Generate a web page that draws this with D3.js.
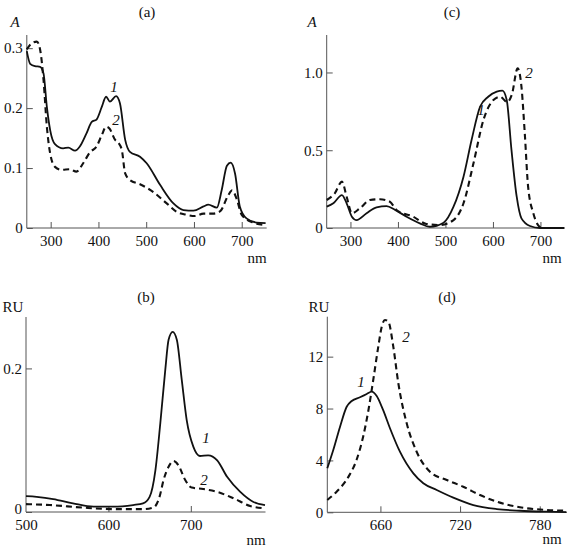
<!DOCTYPE html>
<html><head><meta charset="utf-8">
<script src="https://cdn.jsdelivr.net/npm/d3@7"></script>
<style>
body{margin:0;background:#fff;}
svg{display:block;}
</style></head><body>
<svg id="c" width="567" height="551"></svg>
<script>
// ---- data ----
const aX1 = [250,257,267,278,285,292,299,309,326,337,351,361,375,386,396,407,416,424,437,445,456,466,487,501,529,557,578,599,620,630,648,658,669,677,686,696,710,731,750];
const aY1 = [0.295,0.274,0.27,0.269,0.258,0.202,0.163,0.14,0.133,0.134,0.129,0.136,0.158,0.177,0.181,0.202,0.219,0.211,0.22,0.208,0.147,0.127,0.119,0.108,0.072,0.041,0.03,0.029,0.036,0.039,0.034,0.063,0.104,0.109,0.091,0.036,0.016,0.009,0.008];
const aX2 = [250,260,271,278,285,292,299,309,323,340,354,368,382,396,407,416,423,435,442,449,456,466,487,515,543,564,585,602,620,640,655,672,680,690,700,724,750];
const aY2 = [0.298,0.308,0.311,0.297,0.247,0.169,0.124,0.102,0.097,0.098,0.094,0.108,0.126,0.136,0.155,0.169,0.166,0.147,0.142,0.13,0.091,0.08,0.073,0.06,0.041,0.027,0.022,0.02,0.024,0.024,0.028,0.055,0.063,0.047,0.022,0.009,0.005];

const cX1 = [250,264,282,292,303,313,334,355,376,394,418,446,467,496,517,538,555,573,590,608,620,629,639,650,660,678,699,750];
const cY1 = [0.137,0.159,0.212,0.159,0.073,0.051,0.095,0.133,0.141,0.116,0.073,0.03,0.008,0.034,0.137,0.33,0.566,0.78,0.844,0.877,0.883,0.823,0.502,0.201,0.062,0.013,0,0];
const cX2 = [250,267,282,292,303,320,341,362,383,397,432,460,488,517,538,559,580,601,615,630,640,652,660,667,674,685,695,705,750];
const cY2 = [0.18,0.223,0.298,0.201,0.095,0.127,0.18,0.185,0.169,0.116,0.073,0.026,0.019,0.051,0.159,0.416,0.695,0.823,0.844,0.81,0.86,1.027,0.909,0.609,0.266,0.095,0.019,0,0];

const bX1 = [500,513,533,557,582,606,630,642,650,657,663,669,673,678,683,689,695,703,711,721,732,744,760,776,790];
const bY1 = [0.022,0.021,0.018,0.012,0.0074,0.0074,0.0097,0.012,0.021,0.058,0.124,0.198,0.24,0.251,0.24,0.184,0.128,0.091,0.078,0.079,0.072,0.049,0.028,0.014,0.0097];
const bX2 = [500,529,570,610,642,655,662,667,673,679,685,693,701,715,732,752,772,790];
const bY2 = [0.011,0.0097,0.006,0.004,0.004,0.0065,0.021,0.045,0.063,0.071,0.065,0.045,0.034,0.032,0.028,0.019,0.0084,0.005];

const dX1 = [620,624.5,629.6,634.6,638.4,644.6,649.7,653.4,657.2,662,667.2,674.7,684.8,692.3,702.4,714.9,730,747.6,765,785,800];
const dY1 = [3.39,4.8,6.6,8.14,8.58,8.87,9.12,9.3,8.97,7.89,6.48,4.67,3.0,2.24,1.72,1.13,0.56,0.25,0.12,0.05,0.02];
const dX2 = [620,627,636,642,647,651,654.6,658.4,661,663.4,666,669.7,673.5,679.8,687.3,697.3,710,722.4,735,747.6,765,785,800];
const dY2 = [0.95,1.59,2.75,4.03,5.83,7.89,10.2,12.77,14.31,14.83,14.7,12.77,9.95,6.86,4.67,3.13,2.49,1.97,1.33,0.82,0.39,0.18,0.12];

const aXTicks = [300,400,500,600,700], aYTicks = [0,0.1,0.2,0.3];
const cXTicks = [300,400,500,600,700], cYTicks = [0,0.5,1.0];
const bXTicks = [500,600,700], bYTicks = [0,0.2];
const dXTicks = [660,720,780], dYTicks = [0,4,8,12];

const titles = ["(a)","(b)","(c)","(d)"];
const yNames = ["A","RU","A","RU"];
const xName = "nm";

// ---- drawing ----
const FONT = "Liberation Serif";
const svg = d3.select("#c");
const fmt1 = d => d === 0 ? "0" : d3.format(".1f")(d);
const fmtI = d => String(d);

function txt(g, p, s, italic){
  return g.append("text").attr("x",p[0]).attr("y",p[1]).attr("text-anchor","middle")
    .attr("dominant-baseline","central").attr("font-size",15).attr("font-family",FONT)
    .attr("fill","#111").attr("font-style",italic?"italic":"normal").text(s);
}

function panel(o){
  const x = d3.scaleLinear().domain(o.xd).range(o.xr);
  const y = d3.scaleLinear().domain(o.yd).range(o.yr);
  const g = svg.append("g");
  const xa = g.append("g").attr("transform",`translate(0,${o.yr[0]})`)
    .call(d3.axisBottom(x).tickValues(o.xt).tickSizeInner(-6).tickSizeOuter(0).tickPadding(7).tickFormat(fmtI));
  const ya = g.append("g").attr("transform",`translate(${o.xr[0]},0)`)
    .call(d3.axisLeft(y).tickValues(o.yt).tickSizeInner(-6).tickSizeOuter(0).tickPadding(4).tickFormat(o.yf));
  [xa,ya].forEach(a=>{
    a.attr("font-family",FONT).attr("font-size",15);
    a.select(".domain").attr("stroke","#555").attr("stroke-width",1);
    a.selectAll(".tick line").attr("stroke","#555");
    a.selectAll("text").attr("fill","#111");
  });
  xa.select(".domain").attr("d",`M${o.xr[0]},0H${o.xEnd}`);
  ya.select(".domain").attr("d",`M0,${o.yr[0]}V${o.yr[1]}`);
  if(o.hideFirstX) xa.selectAll(".tick").filter(d=>d===o.xd[0]).select("line").remove();
  if(o.zeroUp) ya.selectAll(".tick").filter(d=>d===0).select("text").attr("dy","0.1em");
  const line = d3.line().x(d=>x(d[0])).y(d=>y(d[1])).curve(d3.curveMonotoneX);
  g.append("path").datum(d3.zip(o.x1,o.y1)).attr("d",line)
    .attr("fill","none").attr("stroke","#111").attr("stroke-width",1.8);
  g.append("path").datum(d3.zip(o.x2,o.y2)).attr("d",line)
    .attr("fill","none").attr("stroke","#111").attr("stroke-width",2.1).attr("stroke-dasharray","6,4");
  txt(g, o.title, o.titleText, false);
  txt(g, o.yname, o.ynameText, o.ynameText==="A");
  txt(g, o.nm, xName, false);
  txt(g, o.l1, "1", true);
  txt(g, o.l2, "2", true);
}

panel({xd:[250,750],xr:[26.8,265.6],xEnd:266.7,yd:[0,0.322],yr:[228,35],xt:aXTicks,yt:aYTicks,yf:fmt1,
  x1:aX1,y1:aY1,x2:aX2,y2:aY2,title:[147,12],titleText:titles[0],yname:[15,22],ynameText:yNames[0],
  nm:[257,258],l1:[114,87],l2:[116,120]});
panel({xd:[250,750],xr:[326.7,564.2],xEnd:565,yd:[0,1.241],yr:[228,35],xt:cXTicks,yt:cYTicks,yf:fmt1,
  x1:cX1,y1:cY1,x2:cX2,y2:cY2,title:[452,12],titleText:titles[2],yname:[312,22],ynameText:yNames[2],
  nm:[552,258],l1:[481,110],l2:[529,73]});
panel({xd:[500,790],xr:[26,265],xEnd:265.5,yd:[0,0.2716],yr:[512,317],xt:bXTicks,yt:bYTicks,yf:fmt1,hideFirstX:true,zeroUp:true,
  x1:bX1,y1:bY1,x2:bX2,y2:bY2,title:[146,297],titleText:titles[1],yname:[13,307],ynameText:yNames[1],
  nm:[256,540],l1:[206,438],l2:[204,480]});
panel({xd:[620,800],xr:[327.3,566.3],xEnd:567,yd:[0,15.08],yr:[512.3,316.7],xt:dXTicks,yt:dYTicks,yf:fmtI,
  x1:dX1,y1:dY1,x2:dX2,y2:dY2,title:[447,297],titleText:titles[3],yname:[319,307],ynameText:yNames[3],
  nm:[552,539],l1:[361,382],l2:[406,337]});
</script>
</body></html>
